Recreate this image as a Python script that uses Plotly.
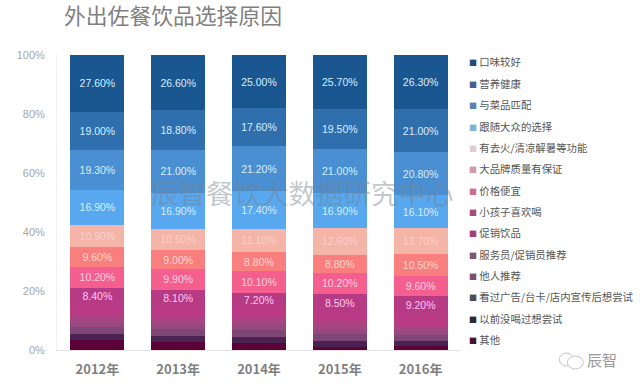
import plotly.graph_objects as go

years = ["2012年", "2013年", "2014年", "2015年", "2016年"]
names = ["其他", "以前没喝过想尝试", "看过广告/台卡/店内宣传后想尝试", "他人推荐", "服务员/促销员推荐",
         "促销饮品", "小孩子喜欢喝", "价格便宜", "大品牌质量有保证", "有去火/清凉解暑等功能",
         "跟随大众的选择", "与菜品匹配", "营养健康", "口味较好"]

qita = [4.9, 3.8, 3.2, 1.5, 2.0]
yiqian = [3.0, 3.0, 3.0, 3.0, 2.6]
guanggao = [3.2, 3.2, 3.2, 3.0, 2.6]
taren = [2.8, 2.8, 2.7, 2.8, 2.4]
fuwu = [3.0, 3.0, 2.8, 3.0, 2.6]
cuxiao = [5.2, 5.0, 4.7, 5.0, 4.9]
xiaohai = [8.4, 8.1, 7.2, 8.5, 9.2]
jiage = [10.2, 9.9, 10.1, 10.2, 9.6]
pinpai = [9.6, 9.0, 8.8, 8.8, 10.5]
quhuo = [10.9, 10.5, 11.1, 12.6, 12.7]
gensui = [16.9, 16.9, 17.4, 16.9, 16.1]
caipin = [19.3, 21.0, 21.2, 21.0, 20.8]
yingyang = [19.0, 18.8, 17.6, 19.5, 21.0]
kouwei = [27.6, 26.6, 25.0, 25.7, 26.3]

series = [qita, yiqian, guanggao, taren, fuwu, cuxiao, xiaohai, jiage, pinpai, quhuo, gensui, caipin, yingyang, kouwei]
bar_colors = ["#5c0038", "#4a2352", "#7d4674", "#96487f", "#a84482", "#bb3a86", "#b73a85", "#f55f90",
              "#f87f7d", "#f4b5a8", "#57a8ef", "#4a8fd1", "#2f6fae", "#1a5690"]
legend_colors = ["#4a1030", "#2a2a30", "#4d4c55", "#7a4f68", "#7d5670", "#a53d78", "#a84a74", "#cc6f8f",
                 "#d29aa4", "#e4cbd3", "#7fb4d0", "#5a82ad", "#44618f", "#1f4e79"]
label_colors = [None, None, None, None, None, None, "#ffc8f0", "#ffd0de", "#ffd6d0", "#fbd0c8",
                "#d8eeff", "#d8eeff", "#d8eeff", "#d8eeff"]

L, R, T, B = 57, 178.5, 54.5, 38
W, H = 640, 388


def px(x):
    return (x - L) / (W - L - R)


def py(y):
    return (H - B - y) / (H - T - B)


fig = go.Figure()
for name, vals, col, lab in zip(names, series, bar_colors, label_colors):
    fig.add_trace(go.Bar(
        x=years, y=vals, name=name, marker=dict(color=col, line_width=0),
        text=[f"{v:.2f}%" for v in vals] if lab else None,
        textposition="inside" if lab else "none",
        insidetextanchor="middle", textangle=0, constraintext="none",
        textfont=dict(family="Liberation Sans", size=10.5, color=lab),
        hoverinfo="name+y",
    ))

anns = []
for i, (name, col) in enumerate(zip(reversed(names), reversed(legend_colors))):
    anns.append(dict(
        x=px(468), y=py(61.5 + i * 21.4), xref="paper", yref="paper", xanchor="left", yanchor="middle",
        showarrow=False,
        text=f'<span style="color:{col};font-size:8px">■</span> {name}',
        font=dict(family="Noto Sans CJK SC", size=10.4, color="#555555"),
    ))
anns.append(dict(x=px(62), y=py(14), xref="paper", yref="paper", xanchor="left", yanchor="middle",
                 showarrow=False, text="外出佐餐饮品选择原因",
                 font=dict(family="Noto Sans CJK SC", size=21.8, color="#808080")))
anns.append(dict(x=px(303), y=py(192), xref="paper", yref="paper", xanchor="center", yanchor="middle",
                 showarrow=False, text="辰智餐饮大数据研究中心",
                 font=dict(family="Noto Sans CJK SC", size=27.5, color="rgba(120,130,140,0.45)")))
anns.append(dict(x=px(603), y=py(360), xref="paper", yref="paper", xanchor="center", yanchor="middle",
                 showarrow=False, text="辰智",
                 font=dict(family="Noto Sans CJK SC", size=15, color="#9a9a9a")))

shapes = [
    dict(type="circle", xref="paper", yref="paper", x0=px(560), x1=px(574), y0=py(366), y1=py(353),
         line=dict(color="#c4c4c4", width=1)),
    dict(type="circle", xref="paper", yref="paper", x0=px(568), x1=px(584), y0=py(369), y1=py(356),
         fillcolor="#ffffff", line=dict(color="#c4c4c4", width=1)),
]

fig.update_layout(
    barmode="stack", barnorm="percent", bargap=1 / 3,
    width=W, height=H, autosize=False,
    margin=dict(l=L, r=R, t=T, b=B, pad=0),
    paper_bgcolor="white", plot_bgcolor="white",
    showlegend=False, annotations=anns, shapes=shapes,
    xaxis=dict(showline=True, linecolor="#e4e4e4", linewidth=1, ticks="outside", ticklen=7, tickcolor="white",
               automargin=False,
               tickfont=dict(family="Noto Sans CJK SC", size=13, color="#7f7f7f", weight="bold")),
    yaxis=dict(range=[0, 100], dtick=20, ticksuffix="%", showgrid=False, zeroline=False, automargin=False,
               showline=True, linecolor="#efefef", linewidth=1, ticks="outside", ticklen=9, tickcolor="white",
               tickfont=dict(family="Liberation Sans", size=11, color="#a6a6a6")),
)
fig.write_html("out.html", config={"displayModeBar": False},
               post_script="document.body.style.margin='0';document.body.style.overflow='hidden';")
